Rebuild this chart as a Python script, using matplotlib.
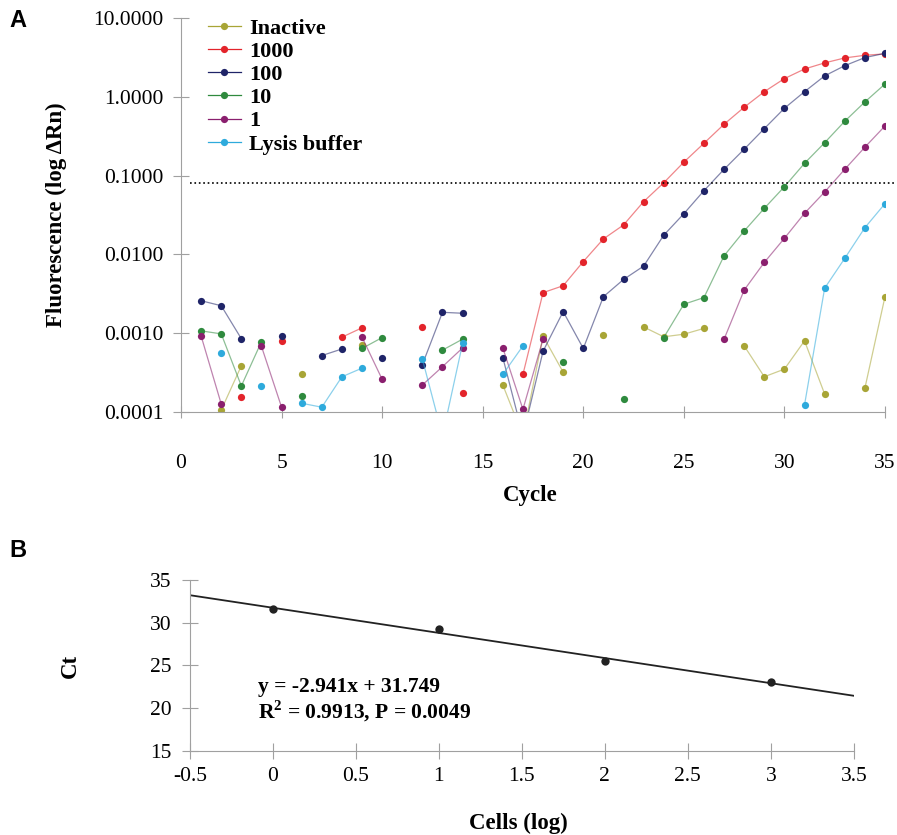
import numpy as np
import matplotlib
matplotlib.use('Agg')
import matplotlib.pyplot as plt

plt.rcParams['font.family'] = ['Liberation Serif', 'DejaVu Serif']
plt.rcParams['mathtext.fontset'] = 'custom'
plt.rcParams['mathtext.rm'] = 'Liberation Serif'
plt.rcParams['mathtext.bf'] = 'Liberation Serif:bold'

nan = np.nan
low = 5e-05   # readings that fall below the axis (line drops off the plot)

cycles = list(range(1, 36))

inactive = [nan, 0.000106, 0.000386, nan, nan, 0.0003, nan, nan, 0.00071, nan,
            nan, nan, nan, nan, nan, 0.00022, low, 0.00092, 0.00032, nan,
            0.00095, nan, 0.0012, 0.0009, 0.00097, 0.00115, nan, 0.00069, 0.00028, 0.00035,
            0.0008, 0.000169, nan, 0.0002, 0.0029]
cells_1000 = [nan, nan, 0.000155, nan, 0.0008, nan, nan, 0.00089, 0.00117, nan,
              nan, 0.0012, nan, 0.000174, nan, nan, 0.0003, 0.00327, 0.004, 0.0081,
              0.0157, 0.0236, 0.0467, 0.081, 0.148, 0.257, 0.448, 0.736, 1.16, 1.70,
              2.25, 2.69, 3.11, 3.36, 3.5]
cells_100 = [0.00258, 0.00223, 0.00085, nan, 0.00092, nan, 0.00052, 0.00063, nan, 0.00049,
             nan, 0.0004, 0.00184, 0.00179, nan, 0.00049, low, 0.00059, 0.00188, 0.00064,
             0.0029, 0.0048, 0.0071, 0.0175, 0.0328, 0.0643, 0.12, 0.216, 0.394, 0.714,
             1.16, 1.84, 2.48, 3.14, 3.56]
cells_10 = [0.00107, 0.00098, 0.000214, 0.00078, nan, 0.000161, nan, nan, 0.00064, 0.00088,
            nan, nan, 0.00061, 0.00084, nan, nan, nan, nan, 0.000434, nan,
            nan, 0.000145, nan, 0.00088, 0.00233, 0.00283, 0.0096, 0.0198, 0.0384, 0.0722,
            0.143, 0.261, 0.489, 0.859, 1.45]
cells_1 = [0.00092, 0.000126, nan, 0.00068, 0.000115, nan, nan, nan, 0.00089, 0.00026,
           nan, 0.00022, 0.000376, 0.00065, nan, 0.00065, 0.000108, 0.00084, nan, nan,
           nan, nan, nan, nan, nan, nan, 0.00084, 0.00353, 0.0079, 0.016,
           0.0332, 0.0619, 0.12, 0.229, 0.426]
lysis = [nan, 0.000556, nan, 0.000214, nan, 0.000129, 0.000115, 0.00028, 0.00036, nan,
         nan, 0.00047, low, 0.00074, nan, 0.0003, 0.00069, nan, nan, nan,
         nan, nan, nan, nan, nan, nan, nan, nan, nan, nan,
         0.000123, 0.00372, 0.0089, 0.0218, 0.044]

series = [('Inactive', inactive, '#a8a536'),
          ('1000', cells_1000, '#e3242b'),
          ('100', cells_100, '#1f2468'),
          ('10', cells_10, '#2f8a3e'),
          ('1', cells_1, '#8a1f6e'),
          ('Lysis buffer', lysis, '#2eaadc')]
threshold = 0.08

log_cells = [0, 1, 2, 3]
ct = [31.57, 29.26, 25.51, 23.02]

gray = '#a0a0a0'

fig = plt.figure(figsize=(8.97, 8.35), dpi=100)

# ---- panel A
ax = fig.add_axes([0.2018, 0.5066, 0.7848, 0.4719])
for name, vals, col in series:
    ax.plot(cycles, vals, '-', color=col, lw=0.9, alpha=0.55)
    ax.plot(cycles, vals, 'o', color=col, ms=5.2, mec='none', label=name)
ax.axhline(threshold, xmin=0.013, xmax=1.016, color='black', ls=':', lw=1.2, clip_on=False)
ax.set_yscale('log')
ax.set_ylim(1e-4, 10)
ax.set_xlim(0, 35)
ax.set_xticks([0, 5, 10, 15, 20, 25, 30, 35])
ax.set_yticks([1e-4, 1e-3, 1e-2, 1e-1, 1, 10])
ax.set_yticklabels(['%.4f' % v for v in [1e-4, 1e-3, 1e-2, 1e-1, 1, 10]])
ax.minorticks_off()
for s in ['top', 'right']:
    ax.spines[s].set_visible(False)
for s in ['left', 'bottom']:
    ax.spines[s].set_color(gray)
ax.tick_params(axis='y', direction='inout', length=11, color=gray, labelsize=15.5, pad=7)
ax.tick_params(axis='x', direction='inout', length=9, color=gray, labelsize=15.5, pad=26)
ax.set_xlabel('Cycle', fontsize=16.5, fontweight='bold')
ax.set_ylabel('Fluorescence (log \u0394Rn)', fontsize=16.5, fontweight='bold')
ax.xaxis.set_label_coords(0.496, -0.185)
ax.yaxis.set_label_coords(-0.162, 0.5)

leg_handles = []
for name, vals, col in series:
    h, = ax.plot([], [], '-o', color=col, lw=0.9, ms=5.2, mec='none')
    leg_handles.append(h)
ax.legend(leg_handles, [s[0] for s in series], loc='upper left', bbox_to_anchor=(0.038, 1.0),
          frameon=False, borderpad=0, borderaxespad=0, handlelength=1.5, handletextpad=0.35,
          labelspacing=0.12, prop={'weight': 'bold', 'size': 16})

fig.text(0.011, 0.976, 'A', fontsize=17, fontweight='bold', family='Liberation Sans', va='center')

# ---- panel B
bx = fig.add_axes([0.2118, 0.1006, 0.740, 0.2048])
slope, intercept = np.polyfit(log_cells, ct, 1)
xl = np.array([-0.5, 3.5])
bx.plot(xl, slope * xl + intercept, color='#222222', lw=1.3)
bx.plot(log_cells, ct, 'o', color='#222222', ms=6, mec='none')
bx.set_xlim(-0.5, 3.5)
bx.set_ylim(15, 35)
bx.set_xticks(np.arange(-0.5, 3.51, 0.5))
bx.set_xticklabels(['-0.5', '0', '0.5', '1', '1.5', '2', '2.5', '3', '3.5'])
bx.set_yticks([15, 20, 25, 30, 35])
for s in ['top', 'right']:
    bx.spines[s].set_visible(False)
for s in ['left', 'bottom']:
    bx.spines[s].set_color(gray)
bx.tick_params(axis='both', direction='inout', length=11, color=gray, labelsize=15.5)
bx.tick_params(axis='y', pad=8)
bx.tick_params(axis='x', pad=6)
bx.set_xlabel('Cells (log)', fontsize=16.5, fontweight='bold')
bx.set_ylabel('Ct', fontsize=16.5, fontweight='bold')
bx.xaxis.set_label_coords(0.495, -0.36)
bx.yaxis.set_label_coords(-0.165, 0.5)
bx.text(0.103, 0.374, 'y = -2.941x + 31.749', transform=bx.transAxes, fontsize=15.5,
        fontweight='bold', va='center')
bx.text(0.103, 0.234, r'R$^{\mathbf{2}}$ = 0.9913, P = 0.0049', transform=bx.transAxes,
        fontsize=15.5, fontweight='bold', va='center')

fig.text(0.011, 0.341, 'B', fontsize=17, fontweight='bold', family='Liberation Sans', va='center')

fig.savefig('out.png', dpi=100)
